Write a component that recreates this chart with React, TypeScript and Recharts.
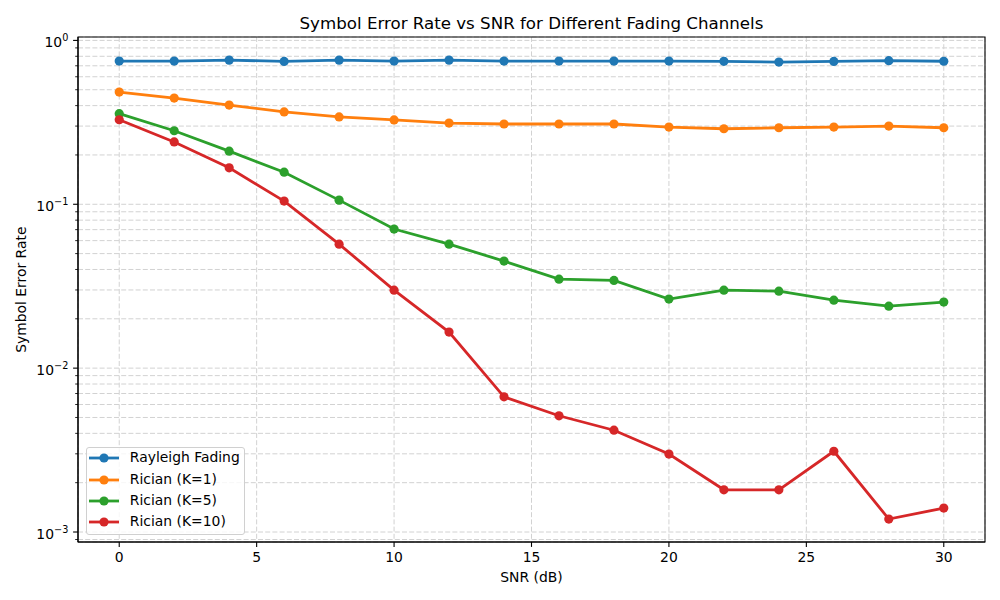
import { LineChart, Line, XAxis, YAxis, CartesianGrid, Legend, ReferenceArea } from "recharts";

const SNR_DB = [0, 2, 4, 6, 8, 10, 12, 14, 16, 18, 20, 22, 24, 26, 28, 30];
const RAYLEIGH = [0.748, 0.748, 0.758, 0.744, 0.758, 0.748, 0.758, 0.748, 0.748, 0.748, 0.748, 0.745, 0.738, 0.744, 0.752, 0.746];
const RICIAN_K1 = [0.484, 0.445, 0.403, 0.366, 0.341, 0.327, 0.313, 0.309, 0.309, 0.309, 0.296, 0.289, 0.293, 0.296, 0.3, 0.293];
const RICIAN_K5 = [0.357, 0.281, 0.211, 0.157, 0.106, 0.0706, 0.0571, 0.045, 0.0349, 0.0343, 0.0264, 0.0299, 0.0295, 0.026, 0.0239, 0.0253];
const RICIAN_K10 = [0.328, 0.24, 0.167, 0.1046, 0.0571, 0.0299, 0.0166, 0.00668, 0.00512, 0.00418, 0.00299, 0.00181, 0.00181, 0.00311, 0.0012, 0.0014];

const X_TICKS = [0, 5, 10, 15, 20, 25, 30];
const Y_TICKS = [
  0.0009,
  0.001, 0.002, 0.003, 0.004, 0.005, 0.006, 0.007, 0.008, 0.009,
  0.01, 0.02, 0.03, 0.04, 0.05, 0.06, 0.07, 0.08, 0.09,
  0.1, 0.2, 0.3, 0.4, 0.5, 0.6, 0.7, 0.8, 0.9,
  1,
];

const SERIES = [
  { key: "rayleigh", name: "Rayleigh Fading", color: "#1f77b4", values: RAYLEIGH },
  { key: "k1", name: "Rician (K=1)", color: "#ff7f0e", values: RICIAN_K1 },
  { key: "k5", name: "Rician (K=5)", color: "#2ca02c", values: RICIAN_K5 },
  { key: "k10", name: "Rician (K=10)", color: "#d62728", values: RICIAN_K10 },
];

const data = SNR_DB.map((snr, i) => {
  const row: Record<string, number> = { snr };
  SERIES.forEach((s) => (row[s.key] = s.values[i]));
  return row;
});

const FONT = "'DejaVu Sans', sans-serif";
const Y_MIN = 0.000869;
const Y_MAX = 1.049;

const XTick = ({ x, y, payload }: any) => (
  <g>
    <line x1={x} x2={x} y1={y} y2={y + 4.9} stroke="#000" strokeWidth={1.1} />
    <text x={x} y={y + 19.5} textAnchor="middle" fontSize={13.9} fontFamily={FONT} fill="#000">
      {payload.value}
    </text>
  </g>
);

const YTick = ({ x, y, payload }: any) => {
  const exp = Math.log10(payload.value);
  const major = Math.abs(exp - Math.round(exp)) < 1e-6;
  const e = Math.round(exp);
  return (
    <g>
      <line x1={x} x2={x - (major ? 4.9 : 2.8)} y1={y} y2={y} stroke="#000" strokeWidth={major ? 1.1 : 0.85} />
      {major && (
        <text x={x - 9.7} y={y + 6.8} textAnchor="end" fontSize={13.9} fontFamily={FONT} fill="#000">
          <tspan>10</tspan>
          <tspan dy={-6} fontSize={9.7}>{e < 0 ? `\u2212${-e}` : `${e}`}</tspan>
        </text>
      )}
    </g>
  );
};

const LegendBox = () => (
  <div
    style={{
      width: 157,
      height: 86,
      border: "1px solid #d0d0d0",
      borderRadius: 3,
      background: "rgba(255,255,255,0.8)",
      fontFamily: FONT,
      fontSize: 13.9,
      color: "#000",
      boxSizing: "content-box",
    }}
  >
    {SERIES.map((s) => (
      <div key={s.key} style={{ height: 21.33, display: "flex", alignItems: "center" }}>
        <svg width={30} height={12} style={{ marginLeft: 2.3, marginRight: 10.5 }}>
          <line x1={0} x2={30} y1={6} y2={6} stroke={s.color} strokeWidth={2.8} />
          <circle cx={15} cy={6} r={4.6} fill={s.color} />
        </svg>
        <span style={{ whiteSpace: "nowrap", lineHeight: 1 }}>{s.name}</span>
      </div>
    ))}
  </div>
);

export default function App() {
  return (
    <div style={{ position: "absolute", left: 0, top: 0, width: 1000, height: 600, background: "#fff" }}>
      <LineChart width={1000} height={600} data={data} margin={{ top: 37, right: 15, bottom: 0, left: 0 }}>
        <CartesianGrid stroke="#d2d2d2" strokeDasharray="5 2.2" strokeWidth={1} />
        <XAxis
          dataKey="snr"
          type="number"
          domain={[-1.5, 31.5]}
          ticks={X_TICKS}
          allowDataOverflow
          interval={0}
          height={58}
          tickSize={0}
          tickMargin={0}
          tickLine={false}
          axisLine={{ stroke: "#000", strokeWidth: 1.1 }}
          tick={<XTick />}
        />
        <YAxis
          scale="log"
          type="number"
          domain={[Y_MIN, Y_MAX]}
          ticks={Y_TICKS}
          allowDataOverflow
          interval={0}
          width={78}
          tickSize={0}
          tickMargin={0}
          tickLine={false}
          axisLine={{ stroke: "#000", strokeWidth: 1.1 }}
          tick={<YTick />}
        />
        <ReferenceArea x1={-1.5} x2={31.5} y1={Y_MIN} y2={Y_MAX} fill="none" stroke="#000" strokeWidth={1.1} ifOverflow="visible" />
        {SERIES.map((s) => (
          <Line
            key={s.key}
            dataKey={s.key}
            name={s.name}
            stroke={s.color}
            strokeWidth={2.8}
            dot={{ r: 4.6, fill: s.color, stroke: s.color, strokeWidth: 0 }}
            activeDot={false}
            isAnimationActive={false}
          />
        ))}
        <Legend
          layout="vertical"
          align="center"
          verticalAlign="middle"
          content={<LegendBox />}
          wrapperStyle={{ position: "absolute", left: 86, top: 446.7, width: "auto", height: "auto" }}
        />
        <text x={531.5} y={28.5} textAnchor="middle" fontSize={16.67} fontFamily={FONT} fill="#000">
          Symbol Error Rate vs SNR for Different Fading Channels
        </text>
        <text x={531.5} y={582} textAnchor="middle" fontSize={13.9} fontFamily={FONT} fill="#000">
          SNR (dB)
        </text>
        <text x={26.5} y={289.7} transform="rotate(-90, 26.5, 289.7)" textAnchor="middle" fontSize={13.9} fontFamily={FONT} fill="#000">
          Symbol Error Rate
        </text>
      </LineChart>
    </div>
  );
}
